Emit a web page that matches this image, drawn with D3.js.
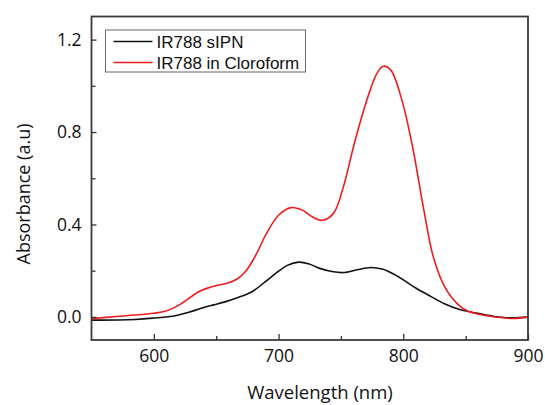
<!DOCTYPE html>
<html>
<head>
<meta charset="utf-8">
<script src="https://cdn.jsdelivr.net/npm/d3@7"></script>
<style>
  body { margin: 0; background: #fff; }
  svg { display: block; }
</style>
</head>
<body>
<div id="chart"></div>
<script>
const width = 545;
const height = 405;
const margin = { top: 16.5, bottom: 65, left: 91.5, right: 17 };

// wavelength (nm) / absorbance
const sipnWavelength = [550, 585, 600, 617, 628, 638, 648, 657, 668, 679, 690, 700, 707, 716, 724, 733, 744, 752, 763, 774, 783, 791, 799, 810, 822, 833, 844, 858, 872, 885, 900];
const sipnAbsorbance = [-0.014, -0.011, -0.005, 0.005, 0.02, 0.037, 0.052, 0.065, 0.085, 0.11, 0.155, 0.198, 0.223, 0.237, 0.23, 0.21, 0.195, 0.192, 0.204, 0.214, 0.207, 0.189, 0.164, 0.125, 0.089, 0.057, 0.034, 0.017, 0.003, -0.004, -0.001];

const chloroWavelength = [550, 570, 585, 600, 609, 620, 636, 645, 652, 660, 667, 674, 682, 690, 700, 710, 719, 727, 735, 744, 752, 760, 768, 774, 779, 784, 790, 799, 808, 816, 824, 833, 844, 852, 866, 880, 888, 900];
const chloroAbsorbance = [-0.008, 0.002, 0.008, 0.016, 0.024, 0.051, 0.109, 0.128, 0.138, 0.148, 0.165, 0.2, 0.27, 0.358, 0.44, 0.473, 0.462, 0.433, 0.418, 0.448, 0.563, 0.735, 0.89, 0.99, 1.055, 1.085, 1.068, 0.936, 0.72, 0.477, 0.261, 0.132, 0.053, 0.024, 0.006, -0.004, -0.007, 0.0];

const seriesNames = ["IR788 sIPN", "IR788 in Cloroform"];
const seriesColors = ["#111111", "#ee1c1c"];
const xTicks = [600, 700, 800, 900];
const xMinorTicks = [650, 750, 850];
const yTicks = [0.0, 0.4, 0.8, 1.2];
const yMinorTicks = [0.2, 0.6, 1.0];

const series = [
    sipnWavelength.map((w, i) => ({ x: w, y: sipnAbsorbance[i] })),
    chloroWavelength.map((w, i) => ({ x: w, y: chloroAbsorbance[i] })),
];

const svg = d3.select('#chart')
    .append('svg')
    .attr('width', width)
    .attr('height', height);

const x = d3.scaleLinear()
    .domain([550, 900])
    .range([margin.left, width - margin.right]);

const y = d3.scaleLinear()
    .domain([-0.1, 1.3])
    .range([height - margin.bottom, margin.top]);

const line = d3.line()
    .x(d => x(d.x))
    .y(d => y(d.y))
    .curve(d3.curveCatmullRom.alpha(0.5));

svg.append("defs").append("clipPath")
    .attr("id", "plotClip")
    .append("rect")
    .attr("x", margin.left)
    .attr("y", margin.top)
    .attr("width", width - margin.left - margin.right)
    .attr("height", height - margin.top - margin.bottom);

svg.append("g")
    .attr("clip-path", "url(#plotClip)")
    .selectAll("path")
    .data(series)
    .join("path")
        .attr("fill", "none")
        .attr("stroke", (d, i) => seriesColors[i])
        .attr("stroke-width", 1.6)
        .attr("d", line);

// axes with ticks pointing inward
function xAxis(g) {
    g.attr("transform", `translate(0,${height - margin.bottom})`)
        .call(d3.axisBottom(x).tickValues(xTicks).tickFormat(d3.format("d")).tickSizeInner(-6).tickSizeOuter(0).tickPadding(10))
        .call(g => g.select(".domain").remove())
        .attr("font-family", "'Open Sans', sans-serif")
        .attr("font-size", "17.5px")
        .call(g => g.selectAll("line").attr("stroke", "#333").attr("stroke-width", 1.3))
        .call(g => g.selectAll("text").attr("fill", "#111"));
}

function yAxis(g) {
    g.attr("transform", `translate(${margin.left},0)`)
        .call(d3.axisLeft(y).tickValues(yTicks).tickFormat(d3.format(".1f")).tickSizeInner(-5).tickSizeOuter(0).tickPadding(10))
        .call(g => g.select(".domain").remove())
        .attr("font-family", "'Open Sans', sans-serif")
        .attr("font-size", "17.5px")
        .call(g => g.selectAll("line").attr("stroke", "#333").attr("stroke-width", 1.3))
        .call(g => g.selectAll("text").attr("fill", "#111"));
}

svg.append("g").call(xAxis);
svg.append("g").call(yAxis);

svg.append("g")
    .attr("transform", `translate(0,${height - margin.bottom})`)
    .call(d3.axisBottom(x).tickValues(xMinorTicks).tickFormat("").tickSizeInner(-4).tickSizeOuter(0))
    .call(g => g.select(".domain").remove())
    .call(g => g.selectAll("line").attr("stroke", "#333").attr("stroke-width", 1.3));

svg.append("g")
    .attr("transform", `translate(${margin.left},0)`)
    .call(d3.axisLeft(y).tickValues(yMinorTicks).tickFormat("").tickSizeInner(-4).tickSizeOuter(0))
    .call(g => g.select(".domain").remove())
    .call(g => g.selectAll("line").attr("stroke", "#333").attr("stroke-width", 1.3));

// frame
svg.append("rect")
    .attr("x", margin.left)
    .attr("y", margin.top)
    .attr("width", width - margin.left - margin.right)
    .attr("height", height - margin.top - margin.bottom)
    .attr("fill", "none")
    .attr("stroke", "#3a3a3a")
    .attr("stroke-width", 1.8);

// axis titles
svg.append("text")
    .attr("x", 320)
    .attr("y", 399)
    .attr("text-anchor", "middle")
    .attr("font-family", "'Open Sans', sans-serif")
    .attr("font-size", "18.5px")
    .attr("fill", "#111")
    .text("Wavelength (nm)");

svg.append("text")
    .attr("transform", "translate(30,194) rotate(-90)")
    .attr("text-anchor", "middle")
    .attr("font-family", "'Open Sans', sans-serif")
    .attr("font-size", "18px")
    .attr("fill", "#111")
    .text("Absorbance (a.u)");

// legend
const legend = svg.append("g").attr("transform", "translate(105.5,30)");

legend.append("rect")
    .attr("width", 200)
    .attr("height", 42)
    .attr("fill", "#fff")
    .attr("stroke", "#666")
    .attr("stroke-width", 1);

const legendItems = legend.selectAll("g")
    .data(seriesNames)
    .join("g")
        .attr("transform", (d, i) => `translate(0,${11.5 + i * 21})`);

legendItems.append("line")
    .attr("x1", 8)
    .attr("x2", 47)
    .attr("stroke", (d, i) => seriesColors[i])
    .attr("stroke-width", 1.6);

legendItems.append("text")
    .attr("x", 51)
    .attr("dy", "0.36em")
    .attr("font-family", "'Liberation Sans', Arial, sans-serif")
    .attr("font-size", "17px")
    .attr("fill", "#111")
    .text(d => d);
</script>
</body>
</html>
